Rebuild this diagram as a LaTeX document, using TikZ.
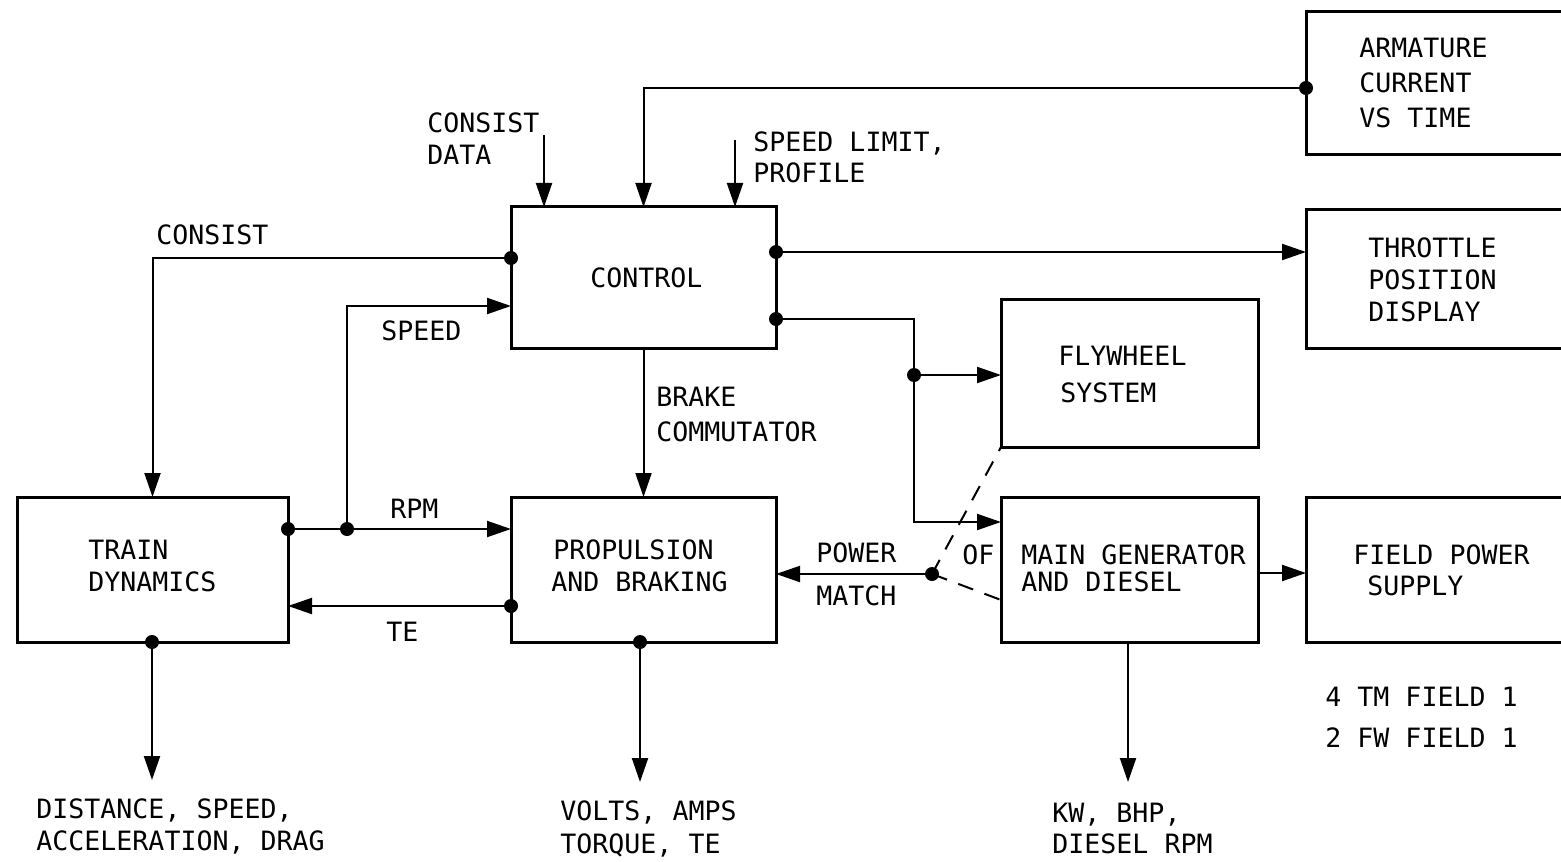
\documentclass[tikz,border=0pt]{standalone}
\usepackage{fontspec}
\setmonofont{DejaVu Sans Mono}
\usetikzlibrary{arrows.meta}
\begin{document}
\begin{tikzpicture}[x=0.5pt,y=-0.5pt,
  box/.style={draw,line width=1.5pt,rectangle,inner sep=0pt,outer sep=0pt},
  conn/.style={line width=1pt},
  arr/.style={conn,-{Triangle[length=12pt,width=8pt]}},
  lbl/.style={anchor=base west,inner sep=0pt,font=\ttfamily\fontsize{13.3pt}{16pt}\selectfont},
  dashln/.style={line width=1pt,dash pattern=on 8pt off 6pt}]
\useasboundingbox (0,0) rectangle (1561,861);
\begin{scope}
\clip (0,0) rectangle (1561,861);
% boxes
\node[box,minimum width=135.5pt,minimum height=72.5pt] (train) at (152.5,569.5) {};
\node[box,minimum width=132.5pt,minimum height=72.5pt] (prop) at (643.5,569.5) {};
\node[box,minimum width=132.5pt,minimum height=70.5pt] (ctl) at (643.5,277.5) {};
\node[box,minimum width=128.5pt,minimum height=74pt] (fly) at (1129.5,373) {};
\node[box,minimum width=128.5pt,minimum height=72.5pt] (gen) at (1129.5,569.5) {};
\node[box,minimum width=147pt,minimum height=71.5pt] (arm) at (1453,83.5) {};
\node[box,minimum width=147pt,minimum height=69pt] (thr) at (1453,279) {};
\node[box,minimum width=147pt,minimum height=72.5pt] (fps) at (1453,569.5) {};
\end{scope}
% coordinates
\coordinate (armdot) at (1306,88);
\coordinate (cdtop) at (544,135);
\coordinate (sltop) at (735,140);
\coordinate (cons) at (511,258);
\coordinate (rpmA) at (288,529);
\coordinate (rpmB) at (347,529);
\coordinate (spdlvl) at (0,306);
\coordinate (teA) at (511,606);
\coordinate (thrA) at (776,252);
\coordinate (genA) at (776,319);
\coordinate (fwA) at (914,375);
\coordinate (genlvl) at (0,522);
\coordinate (pm) at (932,574);
\coordinate (pmlo) at (1001,600);
\coordinate (gfl) at (0,573);
\coordinate (genout) at (1128,782);
\coordinate (propout) at (640,782);
\coordinate (trainout) at (152,780);
% connectors
\draw[arr] (armdot) -| (ctl.north);
\draw[arr] (cdtop) -- (cdtop |- ctl.north);
\draw[arr] (sltop) -- (sltop |- ctl.north);
\draw[arr] (cons) -| (train.north);
\draw[arr] (rpmA) -- (rpmA -| prop.west);
\draw[arr] (rpmB) |- (ctl.west |- spdlvl);
\draw[arr] (teA) -- (teA -| train.east);
\draw[arr] (ctl.south) -- (prop.north);
\draw[arr] (thrA) -- (thrA -| thr.west);
\draw[arr] (genA) -| (fwA |- genlvl) -- (gen.west |- genlvl);
\draw[arr] (fwA) -- (fwA -| fly.west);
\draw[arr] (pm) -- (pm -| prop.east);
\draw[dashln] (pm) -- (fly.south west);
\draw[dashln] (pm) -- (pmlo);
\draw[arr] (gen.east |- gfl) -- (fps.west |- gfl);
\draw[arr] (genout |- gen.south) -- (genout);
\draw[arr] (propout |- prop.south) -- (propout);
\draw[arr] (trainout |- train.south) -- (trainout);
% dots
\foreach \p in {armdot,cons,rpmA,rpmB,teA,thrA,genA,fwA,pm}
  \fill (\p) circle (3.5pt);
\fill (propout |- prop.south) circle (3.5pt);
\fill (trainout |- train.south) circle (3.5pt);
% labels
\node[lbl] (tcd1) at (427,133) {CONSIST};
\node[lbl] (tcd2) at (427,165) {DATA};
\node[lbl] (tsl1) at (753,152) {SPEED LIMIT,};
\node[lbl] (tsl2) at (753,183) {PROFILE};
\node[lbl] (tcons) at (156,244) {CONSIST};
\node[lbl] (tctl) at (590,287) {CONTROL};
\node[lbl] (tspd) at (381,340) {SPEED};
\node[lbl] (trpm) at (390,518) {RPM};
\node[lbl] (tte) at (386,641) {TE};
\node[lbl] (tbr1) at (656,406) {BRAKE};
\node[lbl] (tbr2) at (656,441) {COMMUTATOR};
\node[lbl] (ttr1) at (88,559) {TRAIN};
\node[lbl] (ttr2) at (88,591) {DYNAMICS};
\node[lbl] (tpr1) at (553,559) {PROPULSION};
\node[lbl] (tpr2) at (551,591) {AND BRAKING};
\node[lbl] (tpm1) at (816,562) {POWER};
\node[lbl] (tpm2) at (816,605) {MATCH};
\node[lbl] (tof) at (962,564) {OF};
\node[lbl] (tgn1) at (1021,564) {MAIN GENERATOR};
\node[lbl] (tgn2) at (1021,591) {AND DIESEL};
\node[lbl] (tfw1) at (1058,365) {FLYWHEEL};
\node[lbl] (tfw2) at (1060,402) {SYSTEM};
\node[lbl] (tar1) at (1359,58) {ARMATURE};
\node[lbl] (tar2) at (1359,93) {CURRENT};
\node[lbl] (tar3) at (1359,128) {VS TIME};
\node[lbl] (tth1) at (1368,257) {THROTTLE};
\node[lbl] (tth2) at (1368,289) {POSITION};
\node[lbl] (tth3) at (1368,321) {DISPLAY};
\node[lbl] (tfp1) at (1353,564) {FIELD POWER};
\node[lbl] (tfp2) at (1367,595) {SUPPLY};
\node[lbl] (ttm) at (1325,706) {4 TM FIELD 1};
\node[lbl] (tfwf) at (1325,747) {2 FW FIELD 1};
\node[lbl] (tds1) at (36,818) {DISTANCE, SPEED,};
\node[lbl] (tds2) at (36,850) {ACCELERATION, DRAG};
\node[lbl] (tva1) at (560,820) {VOLTS, AMPS};
\node[lbl] (tva2) at (560,853) {TORQUE, TE};
\node[lbl] (tkw1) at (1052,822) {KW, BHP,};
\node[lbl] (tkw2) at (1052,853) {DIESEL RPM};
\end{tikzpicture}
\end{document}
